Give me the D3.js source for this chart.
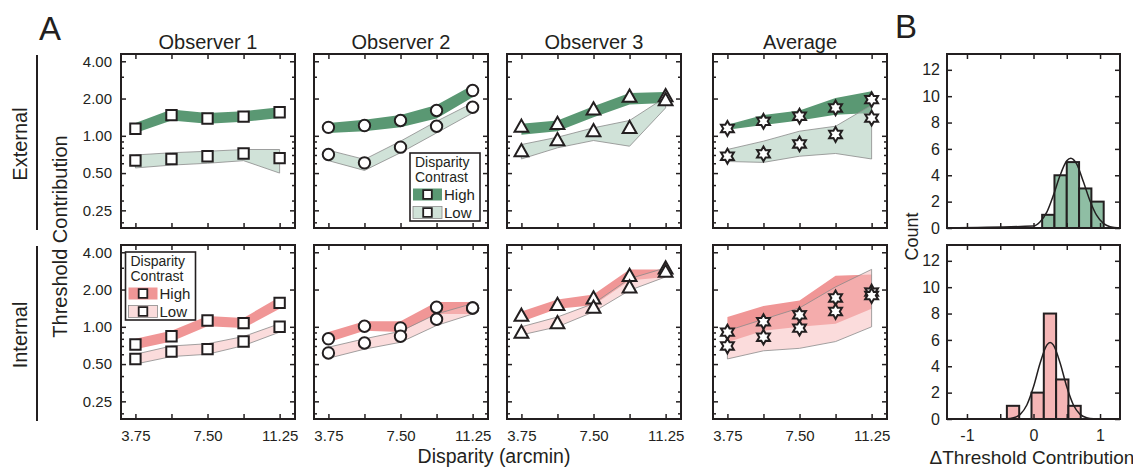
<!DOCTYPE html>
<html><head><meta charset="utf-8">
<script src="https://cdn.jsdelivr.net/npm/d3@7"></script>
<style>
body{margin:0;background:#fff}
text{font-family:"Liberation Sans",Arial,Helvetica,sans-serif;fill:#231f20}
</style>
</head><body>
<svg id="c" width="1133" height="468"></svg>
<script>
// ---------------- data ----------------
const disparity = [3.75, 5.625, 7.5, 9.375, 11.25];
const xTickLabels = ["3.75", "", "7.50", "", "11.25"];
const yMajorTicks = [0.25, 0.5, 1, 2, 4];
const yTickLabels = ["0.25", "0.50", "1.00", "2.00", "4.00"];
const yMinorTicks = [0.2, 0.3, 0.4, 0.6, 0.7, 0.8, 0.9, 3];
const panelTitles = ["Observer 1", "Observer 2", "Observer 3", "Average"];
const rowLabels = ["External", "Internal"];
const markerShapes = ["square", "circle", "triangle", "hexagram"];
const legendTitle = ["Disparity", "Contrast"];
const legendItems = ["High", "Low"];

// External noise row
const extObs1High = [1.14, 1.47, 1.38, 1.43, 1.55];
const extObs1HighUp = [1.27, 1.63, 1.53, 1.58, 1.70];
const extObs1HighLo = [1.055, 1.33, 1.25, 1.30, 1.39];
const extObs1Low = [0.632, 0.65, 0.684, 0.72, 0.66];
const extObs1LowUp = [0.70, 0.73, 0.75, 0.775, 0.775];
const extObs1LowLo = [0.55, 0.58, 0.60, 0.63, 0.50];

const extObs2High = [1.17, 1.21, 1.33, 1.60, 2.32];
const extObs2HighUp = [1.27, 1.35, 1.47, 1.77, 2.56];
const extObs2HighLo = [1.055, 1.09, 1.17, 1.38, 2.05];
const extObs2Low = [0.706, 0.605, 0.81, 1.195, 1.70];
const extObs2LowUp = [0.765, 0.645, 0.905, 1.31, 1.84];
const extObs2LowLo = [0.63, 0.525, 0.73, 1.055, 1.53];

const extObs3High = [1.195, 1.26, 1.65, 2.09, 2.11];
const extObs3HighUp = [1.25, 1.33, 1.73, 2.22, 2.26];
const extObs3HighLo = [1.02, 1.09, 1.41, 1.79, 1.84];
const extObs3Low = [0.76, 0.93, 1.10, 1.17, 1.96];
const extObs3LowUp = [0.85, 0.974, 1.16, 1.33, 2.05];
const extObs3LowLo = [0.65, 0.80, 0.916, 0.824, 1.68];

const extAvgHigh = [1.146, 1.31, 1.44, 1.68, 1.96];
const extAvgHighUp = [1.23, 1.47, 1.60, 2.02, 2.29];
const extAvgHighLo = [1.12, 1.22, 1.33, 1.48, 1.53];
const extAvgLow = [0.684, 0.715, 0.86, 1.025, 1.39];
const extAvgLowUp = [0.775, 0.905, 1.09, 1.195, 1.77];
const extAvgLowLo = [0.62, 0.61, 0.684, 0.72, 0.65];

// Internal noise row
const intObs1High = [0.72, 0.84, 1.125, 1.07, 1.56];
const intObs1HighUp = [0.80, 0.93, 1.22, 1.18, 1.74];
const intObs1HighLo = [0.66, 0.76, 1.01, 0.976, 1.40];
const intObs1Low = [0.55, 0.63, 0.66, 0.76, 1.0];
const intObs1LowUp = [0.60, 0.70, 0.73, 0.835, 1.06];
const intObs1LowLo = [0.50, 0.575, 0.60, 0.705, 0.906];

const intObs2High = [0.80, 1.01, 0.98, 1.44, 1.42];
const intObs2HighUp = [0.906, 1.11, 1.11, 1.59, 1.59];
const intObs2HighLo = [0.75, 0.93, 0.906, 1.27, 1.27];
const intObs2Low = [0.615, 0.74, 0.84, 1.15, 1.42];
const intObs2LowUp = [0.684, 0.80, 0.92, 1.27, 1.54];
const intObs2LowLo = [0.557, 0.66, 0.75, 1.025, 1.27];

const intObs3High = [1.24, 1.52, 1.71, 2.60, 2.99];
const intObs3HighUp = [1.33, 1.66, 1.82, 2.91, 2.91];
const intObs3HighLo = [1.10, 1.40, 1.49, 2.37, 2.53];
const intObs3Low = [0.906, 1.08, 1.44, 2.10, 2.81];
const intObs3LowUp = [1.0, 1.20, 1.54, 2.45, 2.99];
const intObs3LowLo = [0.86, 1.0, 1.32, 1.97, 2.53];

const intAvgHigh = [0.906, 1.10, 1.25, 1.71, 1.91];
const intAvgHighUp = [1.20, 1.47, 1.63, 2.58, 2.64];
const intAvgHighLo = [0.75, 0.93, 1.0, 1.06, 1.40];
const intAvgLow = [0.70, 0.825, 0.976, 1.33, 1.79];
const intAvgLowUp = [0.93, 1.15, 1.42, 2.10, 2.91];
const intAvgLowLo = [0.55, 0.64, 0.67, 0.76, 1.0];

// Panel B histograms (bin left edges, counts)
const histBinWidth = 0.185;
const extBinStarts = [0.13, 0.315, 0.50, 0.685, 0.87];
const extCounts = [1, 4, 5, 3, 2];
const intBinStarts = [-0.40, -0.215, -0.03, 0.155, 0.34, 0.525];
const intCounts = [1, 0, 2, 8, 3, 1];
// fitted curves, points
const extFitX = [-1.3, 0.0, 0.1, 0.2, 0.3, 0.4, 0.5, 0.56, 0.65, 0.75, 0.85, 0.95, 1.05, 1.15, 1.3];
const extFitY = [0, 0.15, 0.48, 1.2, 2.5, 4.0, 5.1, 5.3, 4.85, 3.5, 2.05, 0.95, 0.35, 0.1, 0];
const intFitX = [-1.3, -0.4, -0.3, -0.2, -0.1, 0.0, 0.1, 0.2, 0.25, 0.3, 0.4, 0.5, 0.6, 0.7, 0.8, 0.9, 1.3];
const intFitY = [0, 0.02, 0.09, 0.35, 1.06, 2.44, 4.25, 5.6, 5.8, 5.6, 4.25, 2.44, 1.06, 0.35, 0.09, 0.02, 0];
const histYTicks = [0, 2, 4, 6, 8, 10, 12];
const histXTicks = [-1, -0.5, 0, 0.5, 1];
const histXLabels = ["-1", "", "0", "", "1"];

// ---------------- styling / layout ----------------
const ink = "#231f20";
const colors = {
  External: {high: "#5a9873", low: "#a9cab8", hist: "#8fbea4"},
  Internal: {high: "#f09696", low: "#f7c0c0", hist: "#f5b6b6"}
};
const colX = [121, 314, 507, 713];
const rowY = [54, 245];
const PW = 174, PH = 174;
const tickFont = 15;

const svg = d3.select("#c");

const panels = [
  [
    {high: extObs1High, hu: extObs1HighUp, hl: extObs1HighLo, low: extObs1Low, lu: extObs1LowUp, ll: extObs1LowLo},
    {high: extObs2High, hu: extObs2HighUp, hl: extObs2HighLo, low: extObs2Low, lu: extObs2LowUp, ll: extObs2LowLo},
    {high: extObs3High, hu: extObs3HighUp, hl: extObs3HighLo, low: extObs3Low, lu: extObs3LowUp, ll: extObs3LowLo},
    {high: extAvgHigh, hu: extAvgHighUp, hl: extAvgHighLo, low: extAvgLow, lu: extAvgLowUp, ll: extAvgLowLo}
  ],
  [
    {high: intObs1High, hu: intObs1HighUp, hl: intObs1HighLo, low: intObs1Low, lu: intObs1LowUp, ll: intObs1LowLo},
    {high: intObs2High, hu: intObs2HighUp, hl: intObs2HighLo, low: intObs2Low, lu: intObs2LowUp, ll: intObs2LowLo},
    {high: intObs3High, hu: intObs3HighUp, hl: intObs3HighLo, low: intObs3Low, lu: intObs3LowUp, ll: intObs3LowLo},
    {high: intAvgHigh, hu: intAvgHighUp, hl: intAvgHighLo, low: intAvgLow, lu: intAvgLowUp, ll: intAvgLowLo}
  ]
];

function markerPath(shape) {
  if (shape === "square") return "M-5.2,-5.2H5.2V5.2H-5.2Z";
  if (shape === "circle") return "M5.7,0A5.7,5.7 0 1,1 -5.7,0A5.7,5.7 0 1,1 5.7,0Z";
  if (shape === "triangle") return "M0,-6.6L6.9,5.6L-6.9,5.6Z";
  // hexagram
  const R = 7.4, r = 4.2;
  const pts = d3.range(12).map(k => {
    const a = (-90 + k * 30) * Math.PI / 180;
    const rr = k % 2 ? r : R;
    return [rr * Math.cos(a), rr * Math.sin(a)];
  });
  return "M" + pts.map(p => p[0].toFixed(2) + "," + p[1].toFixed(2)).join("L") + "Z";
}

const x = d3.scaleLinear().domain([3.0, 12.05]).range([0, PW]);
const y = d3.scaleLog().base(2).domain([0.18, 4.58]).range([PH, 0]);

function drawLegend(g, bx, by, row) {
  const lg = g.append("g").attr("transform", `translate(${bx},${by})`);
  lg.append("rect").attr("width", 70).attr("height", 68).attr("fill", "#fff")
    .attr("stroke", ink).attr("stroke-width", 1.6);
  legendTitle.forEach((t, i) => lg.append("text").attr("x", 5).attr("y", 14 + i * 15)
    .attr("font-size", 14).text(t));
  legendItems.forEach((t, i) => {
    const yy = 35.5 + i * 18;
    const sw = lg.append("rect").attr("x", 3).attr("y", yy).attr("width", 29).attr("height", 12);
    if (i === 0) sw.attr("fill", colors[row].high);
    else sw.attr("fill", colors[row].low).attr("fill-opacity", 0.55).attr("stroke", "#8a8a8a").attr("stroke-width", 0.8);
    lg.append("path").attr("d", "M-4.3,-4.3H4.3V4.3H-4.3Z").attr("transform", `translate(17.5,${yy + 6})`)
      .attr("fill", "#fff").attr("stroke", ink).attr("stroke-width", 1.8);
    lg.append("text").attr("x", 34).attr("y", yy + 11.5).attr("font-size", 15).text(t);
  });
}

function styleAxis(a) {
  a.select(".domain").remove();
  a.selectAll("line").attr("stroke", ink).attr("stroke-width", 1.5);
  a.selectAll("text").attr("font-size", tickFont).attr("fill", ink)
    .attr("font-family", '"Liberation Sans",Arial,sans-serif');
}

panels.forEach((rowP, r) => {
  const row = rowLabels[r];
  rowP.forEach((p, c) => {
    const g = svg.append("g").attr("transform", `translate(${colX[c]},${rowY[r]})`);
    const idx = d3.range(disparity.length);
    const areaOf = (lo, up) => d3.area().x(i => x(disparity[i])).y0(i => y(lo[i])).y1(i => y(up[i]))(idx);
    g.append("path").attr("d", areaOf(p.hl, p.hu)).attr("fill", colors[row].high);
    g.append("path").attr("d", areaOf(p.ll, p.lu)).attr("fill", colors[row].low).attr("fill-opacity", 0.55)
      .attr("stroke", "#8a8a8a").attr("stroke-width", 0.8);

    // axes (ticks inward)
    const yL = d3.axisLeft(y).tickValues(yMajorTicks).tickSize(-5).tickPadding(9)
      .tickFormat((d, i) => c === 0 ? yTickLabels[i] : "");
    const yLm = d3.axisLeft(y).tickValues(yMinorTicks).tickSize(-3).tickFormat("");
    const yR = d3.axisRight(y).tickValues(yMajorTicks).tickSize(-5).tickFormat("");
    const yRm = d3.axisRight(y).tickValues(yMinorTicks).tickSize(-3).tickFormat("");
    const xB = d3.axisBottom(x).tickValues(disparity).tickSize(-5).tickPadding(11)
      .tickFormat((d, i) => r === 1 ? xTickLabels[i] : "");
    const xT = d3.axisTop(x).tickValues(disparity).tickSize(-5).tickFormat("");
    [[yL, 0, 0], [yLm, 0, 0], [yR, PW, 0], [yRm, PW, 0], [xB, 0, PH], [xT, 0, 0]].forEach(([ax, tx, ty]) => {
      const a = g.append("g").attr("transform", `translate(${tx},${ty})`).call(ax);
      styleAxis(a);
    });

    // markers
    const shape = markerShapes[c];
    [p.high, p.low].forEach(vals => {
      g.selectAll(null).data(vals).enter().append("path")
        .attr("d", markerPath(shape))
        .attr("transform", (v, i) => `translate(${x(disparity[i])},${y(v)})`)
        .attr("fill", "#fff").attr("stroke", ink).attr("stroke-width", 2)
        .attr("stroke-linejoin", "miter");
    });

    g.append("rect").attr("width", PW).attr("height", PH).attr("fill", "none")
      .attr("stroke", ink).attr("stroke-width", 2);

    if (r === 0) g.append("text").attr("x", PW / 2).attr("y", -5).attr("text-anchor", "middle")
      .attr("font-size", 20).text(panelTitles[c]);

    if (r === 0 && c === 1) drawLegend(g, 96, 99, row);
    if (r === 1 && c === 0) drawLegend(g, 4.5, 7, row);
  });
});

// row labels & separators
rowLabels.forEach((lab, r) => {
  svg.append("line").attr("x1", 37).attr("x2", 37).attr("y1", rowY[r] + 1).attr("y2", rowY[r] + PH + 2)
    .attr("stroke", ink).attr("stroke-width", 2);
  svg.append("text").attr("transform", `translate(27,${rowY[r] + PH / 2 + 3}) rotate(-90)`)
    .attr("text-anchor", "middle").attr("font-size", 20).text(lab);
});
svg.append("text").attr("transform", `translate(67,${(rowY[0] + rowY[1] + PH) / 2}) rotate(-90)`)
  .attr("text-anchor", "middle").attr("font-size", 20).text("Threshold Contribution");
svg.append("text").attr("x", 494).attr("y", 463).attr("text-anchor", "middle").attr("font-size", 19.5)
  .text("Disparity (arcmin)");
svg.append("text").attr("x", 39).attr("y", 40).attr("font-size", 33).text("A");
svg.append("text").attr("x", 895).attr("y", 38).attr("font-size", 33).text("B");

// ---------------- panel B ----------------
const HX = 947, HW = 173;
const hx = d3.scaleLinear().domain([-1.3, 1.3]).range([0, HW]);
const hy = d3.scaleLinear().domain([0, 13.2]).range([PH, 0]);
const hists = [
  {row: "External", starts: extBinStarts, counts: extCounts, fx: extFitX, fy: extFitY},
  {row: "Internal", starts: intBinStarts, counts: intCounts, fx: intFitX, fy: intFitY}
];
hists.forEach((h, r) => {
  const g = svg.append("g").attr("transform", `translate(${HX},${rowY[r]})`);
  const bins = h.starts.map((s, i) => ({s, n: h.counts[i]})).filter(b => b.n > 0);
  g.selectAll(null).data(bins).enter().append("rect")
    .attr("x", b => hx(b.s)).attr("width", b => hx(b.s + histBinWidth) - hx(b.s))
    .attr("y", b => hy(b.n)).attr("height", b => hy(0) - hy(b.n))
    .attr("fill", colors[h.row].hist).attr("stroke", ink).attr("stroke-width", 2);
  const pts = h.fx.map((v, i) => [v, h.fy[i]]);
  g.append("path").attr("d", d3.line().x(d => hx(d[0])).y(d => hy(d[1])).curve(d3.curveMonotoneX)(pts))
    .attr("fill", "none").attr("stroke", ink).attr("stroke-width", 1.5);

  const yl = d3.axisLeft(hy).tickValues(histYTicks).tickSize(-5).tickPadding(7);
  const yr = d3.axisRight(hy).tickValues(histYTicks).tickSize(-5).tickFormat("");
  const xb = d3.axisBottom(hx).tickValues(histXTicks).tickSize(-5).tickPadding(11)
    .tickFormat((d, i) => r === 1 ? histXLabels[i] : "");
  const xt = d3.axisTop(hx).tickValues(histXTicks).tickSize(-5).tickFormat("");
  [[yl, 0, 0], [yr, HW, 0], [xb, 0, PH], [xt, 0, 0]].forEach(([ax, tx, ty]) => {
    const a = g.append("g").attr("transform", `translate(${tx},${ty})`).call(ax);
    styleAxis(a);
    a.selectAll("text").attr("font-size", 16);
  });
  g.append("rect").attr("width", HW).attr("height", PH).attr("fill", "none")
    .attr("stroke", ink).attr("stroke-width", 2);
});
svg.append("text").attr("transform", `translate(918,${(rowY[0] + rowY[1] + PH) / 2}) rotate(-90)`)
  .attr("text-anchor", "middle").attr("font-size", 18).text("Count");
svg.append("text").attr("x", 1032).attr("y", 464).attr("text-anchor", "middle").attr("font-size", 19)
  .text("\u0394Threshold Contribution");
</script>
</body></html>
